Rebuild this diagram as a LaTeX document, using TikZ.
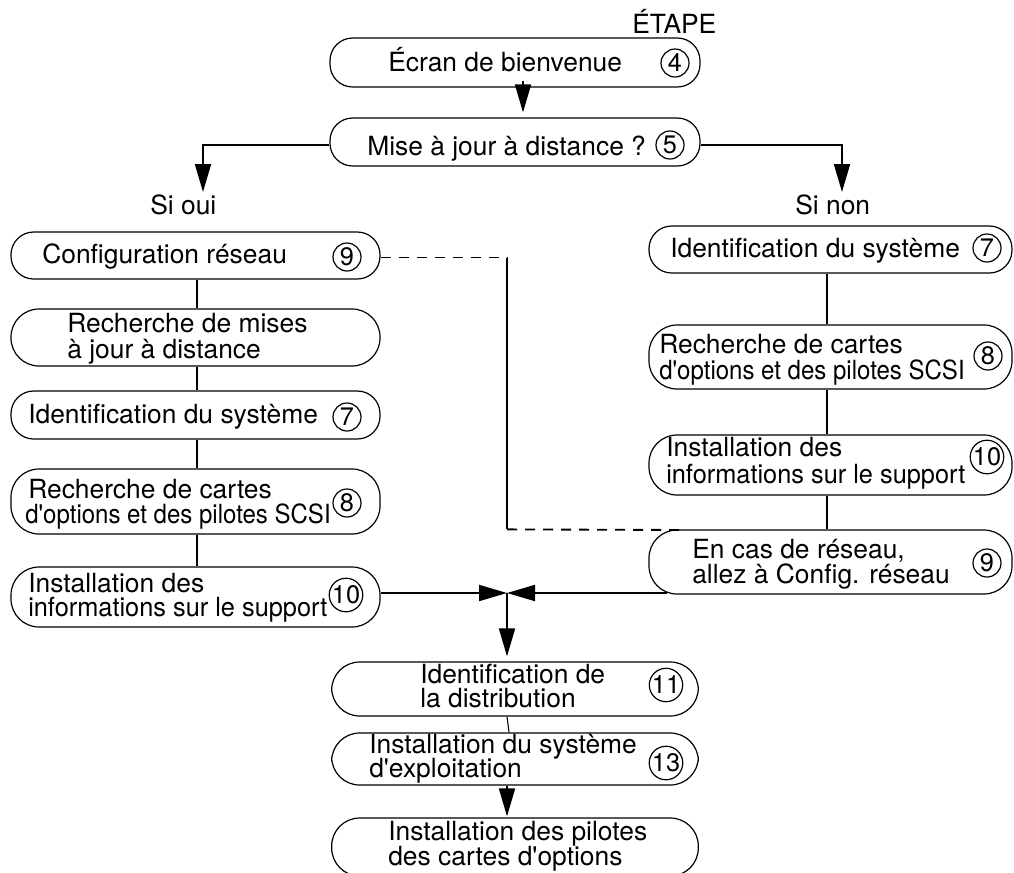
\documentclass[tikz,border=0pt]{standalone}
\usepackage{fontspec}
\setmainfont{TeX Gyre Heros}
\usepackage{graphicx}
\usetikzlibrary{arrows.meta,calc}

\newcommand{\etroit}[2]{\scalebox{#1}[1]{#2}}

\tikzset{
  stepbox/.style={draw, line width=0.9pt, rounded corners=17pt, inner sep=0pt, minimum height=36pt},
  tall/.style={rounded corners=21pt},
  lbox/.style={stepbox, minimum width=276.75pt},
  rbox/.style={stepbox, minimum width=272.25pt},
  cbox/.style={stepbox, minimum width=275pt},
  txt/.style={anchor=base west, inner sep=0pt, font=\fontsize{19.8}{24}\selectfont},
  num/.style={draw, circle, line width=0.9pt, inner sep=0pt, minimum size=21pt, font=\fontsize{19}{19}\selectfont},
  link/.style={line width=1.4pt},
  arr/.style={link, -{Triangle[length=21pt, width=12pt]}},
  netlink/.style={link, dash pattern=on 7.5pt off 6pt},
}

\begin{document}
\begin{tikzpicture}[x=0.75pt,y=0.75pt,yscale=-1,xscale=1]
\clip (0,0) rectangle (1014,872);

%Shape: top boxes
\node[cbox, minimum width=277.5pt, minimum height=36.75pt] (wel) at (515,62.5) {};
\node[cbox, minimum width=277.5pt, minimum height=36pt] (rem) at (515,142) {};
%Shape: left column
\node[lbox, minimum height=35.25pt] (cfg) at (195.5,255.5) {};
\node[lbox, tall, minimum height=42.75pt] (rech) at (195.5,337.5) {};
\node[lbox] (lident) at (195.5,415) {};
\node[lbox, tall, minimum height=48.75pt] (lcarte) at (195.5,501.5) {};
\node[lbox, tall, minimum height=45pt] (linst) at (195.5,597) {};
%Shape: right column
\node[rbox, minimum height=35.25pt] (rident) at (830.5,249.5) {};
\node[rbox, tall, minimum height=48pt] (rcarte) at (830.5,357) {};
\node[rbox, tall, minimum height=45pt] (rinst) at (830.5,465) {};
\node[rbox, tall, minimum height=48pt] (encas) at (830.5,562) {};
%Shape: bottom boxes
\node[cbox, tall, minimum height=40.5pt] (distr) at (515,689) {};
\node[cbox, tall, minimum height=39pt] (sysexp) at (515,759) {};
\node[cbox, tall, minimum height=43.5pt] (pilote) at (515,847) {};

% Text Node
\node[txt] (etape) at (632,33) {ÉTAPE};
\node[txt] (welT) at (388,71) {Écran de bienvenue};
\node[num] (welN) at (675,63) {4};
\node[txt] (remT) at (367,155) {Mise à jour à distance ?};
\node[num] (remN) at (670,145) {5};
\node[txt] (oui) at (150,214) {Si oui};
\node[txt] (non) at (795,214) {Si non};

% Text Node: left column
\node[txt] (cfgT) at (42,263) {Configuration réseau};
\node[num] (cfgN) at (347,257) {9};
\node[txt] (rechA) at (67,332) {Recherche de mises};
\node[txt] (rechB) at (67,358) {à jour à distance};
\node[txt] (lidentT) at (28,423) {Identification du système};
\node[num] (lidentN) at (347,417) {7};
\node[txt] (lcarteA) at (28,498) {Recherche de cartes};
\node[txt] (lcarteB) at (25,523) {\etroit{0.91}{d\textquotesingle options et des pilotes SCSI}};
\node[num] (lcarteN) at (347,503) {8};
\node[txt] (linstA) at (28,592) {Installation des};
\node[txt] (linstB) at (28,616) {\etroit{0.96}{informations sur le support}};
\node[num] (linstN) at (346,595) {10};

% Text Node: right column
\node[txt] (ridentT) at (670,257) {Identification du système};
\node[num] (ridentN) at (987,248) {7};
\node[txt] (rcarteA) at (659,353) {Recherche de cartes};
\node[txt] (rcarteB) at (659,379) {\etroit{0.91}{d\textquotesingle options et des pilotes SCSI}};
\node[num] (rcarteN) at (988,356) {8};
\node[txt] (rinstA) at (666,456) {Installation des};
\node[txt] (rinstB) at (666,483) {\etroit{0.96}{informations sur le support}};
\node[num] (rinstN) at (987,457) {10};
\node[txt] (encasA) at (692,558) {En cas de réseau,};
\node[txt] (encasB) at (692,583) {allez à Config. réseau};
\node[num] (encasN) at (987,563) {9};

% Text Node: bottom
\node[txt] (distrA) at (420,683) {Identification de};
\node[txt] (distrB) at (420,707) {la distribution};
\node[num] (distrN) at (666,685) {11};
\node[txt] (sysexpA) at (369,753) {Installation du système};
\node[txt] (sysexpB) at (369,777) {d\textquotesingle exploitation};
\node[num] (sysexpN) at (666,763) {13};
\node[txt] (piloteA) at (388,840) {Installation des pilotes};
\node[txt] (piloteB) at (388,865) {des cartes d\textquotesingle options};

% connector columns and free ends
\coordinate (lcol) at (197,0);
\coordinate (rcol) at (827,0);
\coordinate (ccol) at (507,0);
\coordinate (ouitip) at (203,192);
\coordinate (nontip) at (842,192);
\coordinate (merge) at (507,593);
\coordinate (encasfoot) at (667,593);
\coordinate (netend) at (682,530);

%Straight Lines: top
\draw[arr] ($(wel.south)+(8,-7)$) -- ($(rem.north)+(8,-5)$);
\draw[arr] ($(rem.west)+(0,3)$) -| (ouitip);
\draw[arr] ($(rem.east)+(0,3)$) -| (nontip);
%Straight Lines: left column
\draw[link] (lcol |- cfg.south) -- (lcol |- rech.north);
\draw[link] (lcol |- rech.south) -- (lcol |- lident.north);
\draw[link] (lcol |- lident.south) -- (lcol |- lcarte.north);
\draw[link] (lcol |- lcarte.south) -- (lcol |- linst.north);
%Straight Lines: right column
\draw[link] (rcol |- rident.south) -- (rcol |- rcarte.north);
\draw[link] (rcol |- rcarte.south) -- (rcol |- rinst.north);
\draw[link] (rcol |- rinst.south) -- (rcol |- encas.north);
%Straight Lines: network loop
\draw[netlink] ($(cfg.east)+(0,2)$) -- ($(cfg.east -| ccol)+(0,2)$);
\draw[link] ($(cfg.east -| ccol)+(0,2)$) -- (ccol |- encas.north);
\draw[netlink] (ccol |- encas.north) -- (netend);
%Straight Lines: merge
\draw[arr] (linst.east |- merge) -- (merge);
\draw[arr] (encasfoot) -- (merge);
\draw[arr] (merge) -- ($(merge |- distr.north)+(0,-5)$);
\draw[link, line width=0.8pt] ($(distr.south)+(-8,0)$) -- ($(sysexp.north)+(-6,0)$);
\draw[arr] ($(sysexp.south)+(-8,0)$) -- ($(pilote.north)+(-8,-1)$);

\end{tikzpicture}
\end{document}
